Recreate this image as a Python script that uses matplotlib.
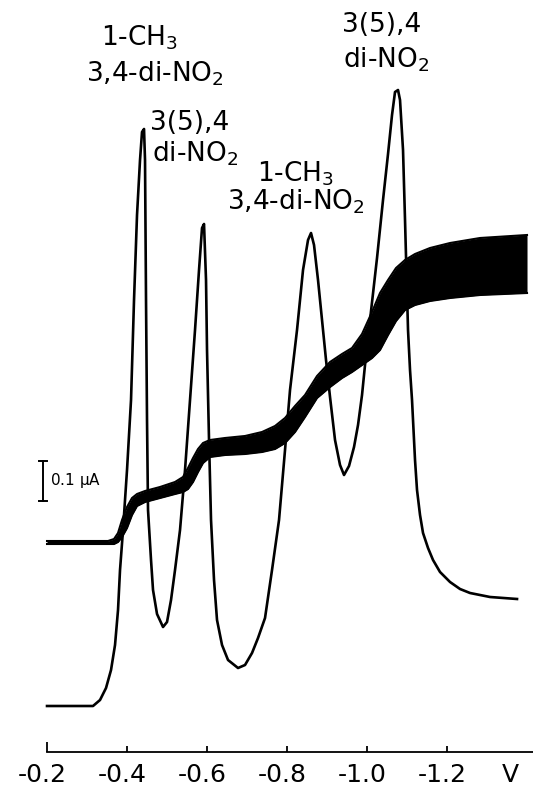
import numpy as np
import matplotlib
matplotlib.use("Agg")
import matplotlib.pyplot as plt

plt.rcParams['font.family'] = ['DejaVu Sans']
plt.rcParams['mathtext.default'] = 'regular'

# Differential pulse polarogram: potential (V) and current (uA, arbitrary offset)
dpp_v = [-0.2008, -0.3158, -0.3333, -0.3483, -0.3608, -0.3708, -0.3783, -0.3833,
         -0.3908, -0.4008, -0.4108, -0.4183, -0.4258, -0.4333, -0.4383, -0.4433,
         -0.4458, -0.4483, -0.4508, -0.4533, -0.4608, -0.4658, -0.4758, -0.4908,
         -0.5008, -0.5108, -0.5208, -0.5333, -0.5458, -0.5583, -0.5708, -0.5808,
         -0.5883, -0.5933, -0.5983, -0.6008, -0.6058, -0.6108, -0.6183, -0.6258,
         -0.6383, -0.6533, -0.6783, -0.6958, -0.7133, -0.7283, -0.7458, -0.7633,
         -0.7808, -0.7958, -0.8083, -0.8258, -0.8408, -0.8533, -0.8608, -0.8683,
         -0.8783, -0.8883, -0.8983, -0.9083, -0.9208, -0.9333, -0.9433, -0.9558,
         -0.9683, -0.9783, -0.9883, -0.9958, -1.0083, -1.0258, -1.0408, -1.0533,
         -1.0633, -1.0708, -1.0783, -1.0833, -1.0908, -1.0958, -1.1033, -1.1083,
         -1.1133, -1.1208, -1.1258, -1.1333, -1.1408, -1.1533, -1.1658, -1.1833,
         -1.2083, -1.2333, -1.2583, -1.3083, -1.3758]
dpp_i = [0.000, 0.000, 0.015, 0.045, 0.090, 0.1525, 0.240, 0.340,
         0.440, 0.590, 0.765, 1.015, 1.2275, 1.365, 1.435, 1.4425,
         1.365, 1.015, 0.715, 0.490, 0.365, 0.290, 0.230, 0.1975,
         0.210, 0.265, 0.340, 0.440, 0.590, 0.765, 0.940, 1.090,
         1.195, 1.205, 1.065, 0.890, 0.665, 0.465, 0.315, 0.215,
         0.1525, 0.115, 0.095, 0.1025, 0.1325, 0.170, 0.220, 0.340,
         0.465, 0.640, 0.790, 0.940, 1.090, 1.165, 1.1825, 1.1525,
         1.065, 0.965, 0.865, 0.7725, 0.665, 0.6025, 0.5775, 0.600,
         0.6475, 0.7025, 0.7775, 0.8525, 0.965, 1.120, 1.265, 1.380,
         1.4775, 1.535, 1.540, 1.515, 1.390, 1.215, 0.940, 0.840,
         0.765, 0.615, 0.540, 0.4775, 0.4325, 0.395, 0.365, 0.335,
         0.310, 0.2925, 0.2825, 0.2725, 0.2675]

# DC polarogram: potential (V), lower and upper envelope of drop oscillation (uA)
dc_v = [-0.2008, -0.3533, -0.3683, -0.3783, -0.3883, -0.4008, -0.4133, -0.4258,
        -0.4458, -0.4833, -0.5208, -0.5408, -0.5533, -0.5658, -0.5783, -0.5908,
        -0.6083, -0.6458, -0.6958, -0.7383, -0.7708, -0.7958, -0.8208, -0.8458,
        -0.8758, -0.9083, -0.9383, -0.9633, -0.9883, -1.0133, -1.0333, -1.0533,
        -1.0733, -1.0958, -1.1208, -1.1583, -1.2083, -1.2833, -1.4008]
dc_lo = [0.405, 0.405, 0.405, 0.410, 0.4225, 0.445, 0.4775, 0.500,
         0.510, 0.520, 0.530, 0.535, 0.5425, 0.560, 0.585, 0.6075,
         0.6225, 0.6275, 0.630, 0.635, 0.6425, 0.6575, 0.685, 0.7225,
         0.770, 0.7975, 0.820, 0.835, 0.8525, 0.870, 0.890, 0.9275,
         0.9625, 0.990, 1.0025, 1.0125, 1.020, 1.0275, 1.0325]
dc_hi = [0.4125, 0.4125, 0.4175, 0.4325, 0.465, 0.4975, 0.520, 0.530,
         0.5375, 0.5475, 0.560, 0.5725, 0.595, 0.620, 0.6425, 0.6575,
         0.665, 0.670, 0.675, 0.685, 0.700, 0.720, 0.750, 0.7775,
         0.825, 0.860, 0.880, 0.895, 0.930, 0.985, 1.0325, 1.065,
         1.095, 1.115, 1.130, 1.145, 1.1575, 1.170, 1.1775]

tick_vals = [-0.2, -0.4, -0.6, -0.8, -1.0, -1.2]
tick_labels = ["-0.2", "-0.4", "-0.6", "-0.8", "-1.0", "-1.2"]

# Peak assignments: text, potential, baseline current, alignment
peak_labels = [
    ("1-CH$_3$", -0.4333, 1.650, "center"),
    ("3,4-di-NO$_2$", -0.4708, 1.560, "center"),
    ("3(5),4", -0.4583, 1.440, "left"),
    ("di-NO$_2$", -0.4633, 1.360, "left"),
    ("1-CH$_3$", -0.8233, 1.3125, "center"),
    ("3,4-di-NO$_2$", -0.8233, 1.240, "center"),
    ("3(5),4", -1.0383, 1.685, "center"),
    ("di-NO$_2$", -1.0483, 1.5975, "center"),
]

fig = plt.figure(figsize=(5.33, 7.88), dpi=100)
ax = fig.add_axes([0, 0, 1, 1])
ax.set_xlim(-0.08325, -1.41575)
ax.set_ylim(-0.205, 1.765)

ink = "black"

# DC wave with drop-time oscillation band
ax.fill_between(dc_v, dc_lo, dc_hi, color=ink, linewidth=0)
ax.plot(dc_v, dc_lo, color=ink, lw=1.5, solid_joinstyle="round")
ax.plot(dc_v, dc_hi, color=ink, lw=1.5, solid_joinstyle="round")

# Differential pulse trace
ax.plot(dpp_v, dpp_i, color=ink, lw=1.9, solid_joinstyle="round")

# Current scale bar
bar_v = -0.1908
bar_lo, bar_hi = 0.5125, 0.6125
ax.plot([bar_v, bar_v], [bar_lo, bar_hi], color=ink, lw=1.4)
for yv in (bar_lo, bar_hi):
    ax.plot([bar_v - 0.01, bar_v + 0.01], [yv, yv], color=ink, lw=1.4)
ax.text(-0.2083, 0.5625, "0.1 $\\mu$A", fontsize=11, ha="left", va="center")

for txt, xv, yv, ha in peak_labels:
    ax.text(xv, yv, txt, fontsize=19, ha=ha, va="baseline")

# Potential axis
for s in ("top", "left", "right"):
    ax.spines[s].set_visible(False)
ax.spines["bottom"].set_position(("data", -0.115))
ax.spines["bottom"].set_bounds(-0.2, -1.42)
ax.spines["bottom"].set_linewidth(1.3)
ax.set_yticks([])
ax.set_xticks(tick_vals)
ax.set_xticklabels([])
ax.tick_params(axis="x", direction="in", length=4, width=1.3)
ax.xaxis.get_major_ticks()[0].tick1line.set_markersize(7)
for v, lab in zip(tick_vals, tick_labels):
    ax.text(v + 0.012, -0.1725, lab, fontsize=18, ha="center", va="center")
ax.text(-1.358, -0.1725, "V", fontsize=18, ha="center", va="center")

fig.savefig("out.png", dpi=100)
